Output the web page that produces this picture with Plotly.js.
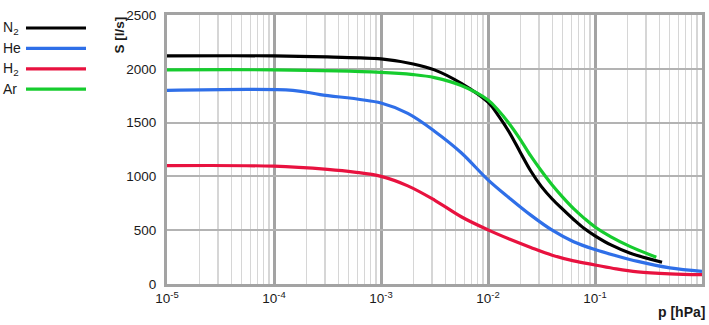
<!DOCTYPE html>
<html>
<head>
<meta charset="utf-8">
<script src="https://cdn.plot.ly/plotly-3.0.1.min.js"></script>
<style>html,body{margin:0;padding:0;background:#fff;}#chart{width:709px;height:325px;}</style>
</head>
<body>
<div id="chart"></div>
<script>
// Series data: pressure p [hPa] and pumping speed S [l/s]
var n2P = [1e-5, 1e-4, 3.16e-4, 1e-3, 2.0e-3, 3.16e-3, 5.62e-3, 1.0e-2, 1.26e-2, 1.58e-2, 2.0e-2, 2.51e-2, 3.16e-2, 3.98e-2, 5.01e-2, 6.31e-2, 7.94e-2, 0.1, 0.141, 0.214, 0.423];
var n2S = [2120, 2120, 2110, 2092, 2045, 1990, 1865, 1690, 1560, 1410, 1225, 1050, 905, 790, 693, 600, 515, 448, 363, 286, 202];

var heP = [1e-5, 1.5e-4, 2.7e-4, 1e-3, 1.78e-3, 3.16e-3, 5.62e-3, 1.0e-2, 1.58e-2, 2.51e-2, 3.98e-2, 6.31e-2, 0.1, 0.158, 0.251, 0.501, 1.0];
var heS = [1800, 1800, 1760, 1682, 1585, 1420, 1220, 968, 800, 640, 500, 393, 320, 262, 210, 150, 118];

var h2P = [1e-5, 1e-4, 3.16e-4, 5.62e-4, 1e-3, 1.78e-3, 3.16e-3, 5.62e-3, 1.0e-2, 1.58e-2, 2.51e-2, 3.98e-2, 6.31e-2, 0.1, 0.158, 0.251, 0.501, 1.0];
var h2S = [1100, 1095, 1065, 1040, 1000, 912, 780, 625, 503, 418, 340, 268, 215, 177, 140, 113, 95, 87];

var arP = [1e-5, 1e-4, 1e-3, 2.0e-3, 3.16e-3, 5.62e-3, 1.0e-2, 1.26e-2, 1.58e-2, 2.0e-2, 2.51e-2, 3.16e-2, 3.98e-2, 5.01e-2, 6.31e-2, 7.94e-2, 0.1, 0.141, 0.214, 0.374];
var arS = [1990, 1990, 1967, 1946, 1918, 1845, 1710, 1610, 1490, 1345, 1190, 1050, 920, 805, 700, 610, 530, 438, 347, 249];

var seriesNames = ["N<sub>2</sub>", "He", "H<sub>2</sub>", "Ar"];
var seriesColors = ["#000000", "#2f6fe8", "#e8123f", "#16cc2e"];

var xTickVals = [1e-5, 1e-4, 1e-3, 1e-2, 1e-1, 1];
var xTickText = ["10<sup>-5</sup>", "10<sup>-4</sup>", "10<sup>-3</sup>", "10<sup>-2</sup>", "10<sup>-1</sup>", "10<sup>0</sup>"];
var yTickVals = [0, 500, 1000, 1500, 2000, 2500];

var xTitle = "p [hPa]";
var yTitle = "S [l/s]";

var xs = [n2P, heP, h2P, arP];
var ys = [n2S, heS, h2S, arS];

var traces = [];
for (var i = 0; i < xs.length; i++) {
  traces.push({
    x: xs[i], y: ys[i], type: 'scatter', mode: 'lines',
    name: seriesNames[i],
    line: {color: seriesColors[i], width: 3.2, shape: 'spline', smoothing: 1},
    showlegend: false, hoverinfo: 'skip'
  });
}

// minor grid positions 2..9 within each decade
var minorVals = [];
for (var d = -5; d < 0; d++) {
  for (var k = 2; k <= 9; k++) minorVals.push(k * Math.pow(10, d));
}

var fam = 'Liberation Sans, Arial, sans-serif';
var font = {family: fam, size: 13, color: '#1a1a1a'};

var annotations = [];
var shapes = [];
var legendTop = 28, legendStep = 20.4;
for (var j = 0; j < seriesNames.length; j++) {
  var yy = legendTop + j * legendStep;
  annotations.push({
    xref: 'paper', yref: 'paper',
    x: (1 - 167) / 535, y: (284 - yy) / 269,
    xanchor: 'left', yanchor: 'middle',
    text: seriesNames[j], showarrow: false, font: {family: fam, size: 14, color: '#1a1a1a'}
  });
  shapes.push({
    type: 'line', xref: 'paper', yref: 'paper',
    x0: (26 - 167) / 535, x1: (86 - 167) / 535,
    y0: (284 - yy) / 269, y1: (284 - yy) / 269,
    line: {color: seriesColors[j], width: 3.2}
  });
}
annotations.push({
  xref: 'paper', yref: 'paper', x: (119 - 167) / 535, y: 1.0,
  xanchor: 'center', yanchor: 'top', textangle: -90,
  text: '<b>' + yTitle + '</b>', showarrow: false, font: {family: fam, size: 13.5, color: '#1a1a1a'}
});
annotations.push({
  xref: 'paper', yref: 'paper', x: (707 - 167) / 535, y: (284 - 312) / 269,
  xanchor: 'right', yanchor: 'middle',
  text: '<b>' + xTitle + '</b>', showarrow: false, font: {family: fam, size: 14, color: '#1a1a1a'}
});

var layout = {
  width: 709, height: 325,
  margin: {l: 167, r: 7, t: 15, b: 41, pad: 0},
  paper_bgcolor: '#ffffff', plot_bgcolor: '#ffffff',
  font: font,
  showlegend: false,
  xaxis: {
    type: 'log', range: [-5, 0],
    tickmode: 'array', tickvals: xTickVals, ticktext: xTickText,
    showgrid: true, gridcolor: '#a3a3a3', gridwidth: 3,
    minor: {tickmode: 'array', tickvals: minorVals, showgrid: true, gridcolor: '#d6d6d6', gridwidth: 1.3, ticks: ''},
    showline: true, mirror: true, linecolor: '#a3a3a3', linewidth: 3,
    ticks: '', ticklen: 0, zeroline: false,
    tickfont: {family: fam, size: 13.5, color: '#1a1a1a'}, fixedrange: true
  },
  yaxis: {
    range: [0, 2500],
    tickmode: 'array', tickvals: yTickVals,
    showgrid: true, gridcolor: '#b3b3b3', gridwidth: 2,
    showline: true, mirror: true, linecolor: '#a3a3a3', linewidth: 3,
    ticks: 'outside', ticklen: 5, tickcolor: 'rgba(0,0,0,0)', zeroline: false,
    tickfont: {family: fam, size: 13.5, color: '#1a1a1a'}, fixedrange: true
  },
  annotations: annotations,
  shapes: shapes
};

Plotly.newPlot('chart', traces, layout, {staticPlot: true, displayModeBar: false});
</script>
</body>
</html>
